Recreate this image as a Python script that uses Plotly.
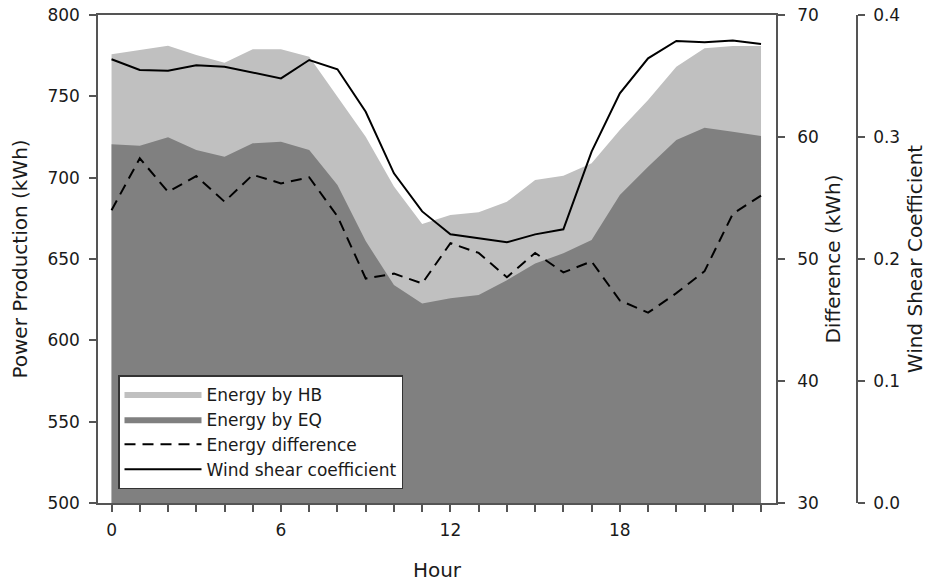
import plotly.graph_objects as go

hours = list(range(24))
energy_hb = [775.8, 778.5, 781.1, 775.4, 770.7, 778.9, 778.9, 774.4, 749.8, 725.2, 694.5, 671.5,
             677.0, 678.7, 685.2, 698.6, 701.2, 708.8, 729.3, 747.7, 768.2, 779.5, 781.0, 781.0]
energy_eq = [720.5, 719.6, 724.8, 717.0, 712.9, 721.1, 722.1, 717.0, 695.5, 661.0, 634.0, 622.7,
             625.8, 627.8, 637.0, 647.3, 653.5, 661.7, 689.3, 706.7, 723.1, 730.7, 728.3, 725.6]
energy_diff = [54.0, 58.25, 55.5, 56.8, 54.7, 56.9, 56.2, 56.7, 53.5, 48.4, 48.8, 48.0,
               51.3, 50.5, 48.5, 50.5, 48.9, 49.8, 46.6, 45.6, 47.2, 49.0, 53.7, 55.2]
wind_shear = [0.3637, 0.3549, 0.3543, 0.3588, 0.3576, 0.3527, 0.348, 0.3631, 0.3555, 0.3207, 0.2702, 0.2390,
              0.2202, 0.217, 0.2137, 0.2202, 0.2243, 0.2880, 0.3358, 0.3645, 0.3787, 0.3776, 0.3790, 0.3762]
x_tick_text = ["0" if h == 0 else (str(h) if h % 6 == 0 else "") for h in hours]
left_ticks = [500, 550, 600, 650, 700, 750, 800]
diff_ticks = [30, 40, 50, 60, 70]
shear_ticks = [0.0, 0.1, 0.2, 0.3, 0.4]

FONT = "DejaVu Sans, sans-serif"
AX = "#555555"
TXT = "#1a1a1a"

fig = go.Figure()
fig.add_trace(go.Scatter(x=hours, y=energy_hb, name="Energy by HB", mode="lines",
                         line=dict(width=0, color="#c0c0c0"), fill="tozeroy", fillcolor="#c0c0c0"))
fig.add_trace(go.Scatter(x=hours, y=energy_eq, name="Energy by EQ", mode="lines",
                         line=dict(width=0, color="#808080"), fill="tozeroy", fillcolor="#808080"))
fig.add_trace(go.Scatter(x=hours, y=energy_diff, name="Energy difference", mode="lines", yaxis="y2",
                         line=dict(width=2, color="#000000", dash="11px,7px")))
fig.add_trace(go.Scatter(x=hours, y=wind_shear, name="Wind shear coefficient", mode="lines", yaxis="y3",
                         line=dict(width=2, color="#000000")))

L, R, T, B = 98, 20, 15, 84
W, H = 929, 587
pw = W - L - R
right_frac = (776 - L) / pw
shear_pos = (857 - L) / pw

common = dict(ticks="outside", ticklen=7, tickcolor=AX, tickwidth=1.5, showline=True, linecolor=AX,
              linewidth=1.5, showgrid=False, zeroline=False, automargin=False,
              tickfont=dict(size=17, color=TXT))

fig.update_layout(
    width=W, height=H,
    margin=dict(l=L, r=R, t=T, b=B, autoexpand=False),
    paper_bgcolor="white", plot_bgcolor="white",
    font=dict(family=FONT, size=17, color=TXT),
    showlegend=True,
    legend=dict(x=(118 - L) / pw, y=(503 - 375) / (H - T - B), xanchor="left", yanchor="top",
                bgcolor="white", bordercolor="#333333", borderwidth=1.5,
                font=dict(size=17, color=TXT), tracegroupgap=0, itemwidth=77),
    xaxis=dict(domain=[0, right_frac], range=[-0.48, 23.53], tickmode="array", tickvals=hours,
               ticktext=x_tick_text, mirror=True, ticklabelstandoff=4,
               title=dict(text="Hour", font=dict(size=20), standoff=24), **common),
    yaxis=dict(range=[500, 800], tickmode="array", tickvals=left_ticks, ticklabelstandoff=6,
               title=dict(text="Power Production (kWh)", font=dict(size=20), standoff=14), **common),
    yaxis2=dict(range=[30, 70], overlaying="y", side="right", anchor="x", tickmode="array",
                tickvals=diff_ticks, ticklabelstandoff=9,
                title=dict(text="Difference (kWh)", font=dict(size=20), standoff=8), **common),
    yaxis3=dict(range=[0, 0.4], overlaying="y", side="right", anchor="free", position=shear_pos,
                tickmode="array", tickvals=shear_ticks, tickformat=".1f", ticklabelstandoff=5,
                title=dict(text="Wind Shear Coefficient", font=dict(size=20), standoff=8), **common),
)

fig.write_html("out.html")
